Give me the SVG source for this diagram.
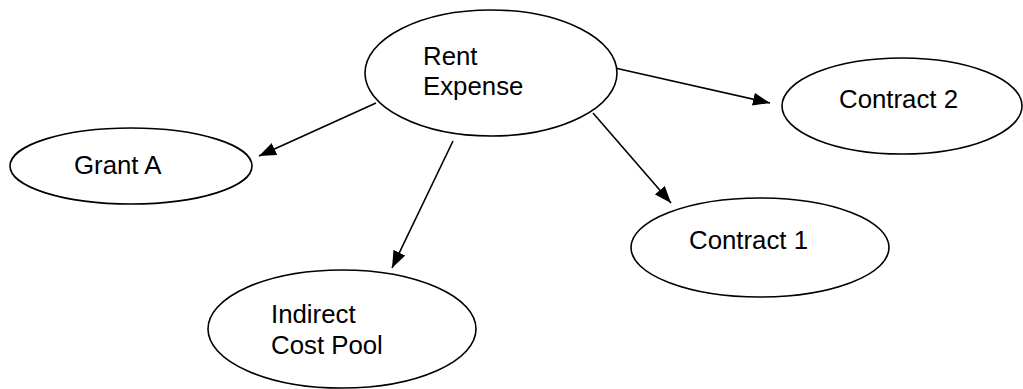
<svg xmlns="http://www.w3.org/2000/svg" width="1023" height="389" viewBox="0 0 1023 389">
  <style>
    .node ellipse { fill: #ffffff; stroke: #000000; stroke-width: 1.6; }
    .node text { font-family: "Liberation Sans", Arial, sans-serif; font-size: 25.8px; fill: #000000; }
    .edge { stroke: #000000; stroke-width: 1.6; fill: none; marker-end: url(#arrow); }
  </style>
  <defs>
    <marker id="arrow" viewBox="0 0 17 13" refX="17" refY="6.5" markerWidth="17" markerHeight="13" markerUnits="userSpaceOnUse" orient="auto">
      <path d="M0,0 L17,6.5 L0,13 Z" fill="#000000"/>
    </marker>
  </defs>

  <rect width="1023" height="389" fill="#ffffff"/>

  <g id="connectors">
    <line class="edge" x1="376" y1="103" x2="259" y2="156"/>
    <line class="edge" x1="453" y1="141" x2="392" y2="268"/>
    <line class="edge" x1="593" y1="113" x2="671" y2="203"/>
    <line class="edge" x1="615" y1="68" x2="770" y2="103"/>
  </g>

  <g id="rent-expense" class="node">
    <ellipse cx="491" cy="73" rx="126" ry="63"/>
    <text x="423" y="65">Rent</text>
    <text x="423" y="95">Expense</text>
  </g>

  <g id="grant-a" class="node">
    <ellipse cx="131" cy="166" rx="121" ry="38"/>
    <text x="74" y="174">Grant A</text>
  </g>

  <g id="indirect-cost-pool" class="node">
    <ellipse cx="342" cy="329" rx="134" ry="59"/>
    <text x="271" y="323">Indirect</text>
    <text x="271" y="354">Cost Pool</text>
  </g>

  <g id="contract-1" class="node">
    <ellipse cx="760" cy="247.5" rx="129" ry="49.5"/>
    <text x="689" y="249">Contract 1</text>
  </g>

  <g id="contract-2" class="node">
    <ellipse cx="902" cy="106" rx="120" ry="48"/>
    <text x="839" y="108">Contract 2</text>
  </g>
</svg>
